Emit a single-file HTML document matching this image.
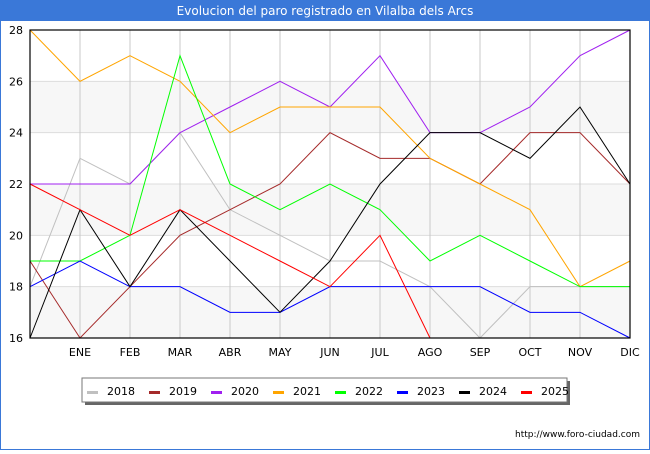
<!DOCTYPE html>
<html><head><meta charset="utf-8"><style>
body{margin:0;width:650px;height:450px;background:#fff;overflow:hidden;font-family:"DejaVu Sans","Liberation Sans",sans-serif}
</style></head><body>
<svg id="c" width="650" height="450" xmlns="http://www.w3.org/2000/svg">
<rect x="0" y="0" width="650" height="450" fill="#fff" stroke="#3a78d8" stroke-width="2"/>
<rect x="0" y="0" width="650" height="21" fill="#3a78d8"/>
<text x="325" y="15" text-anchor="middle" font-size="12" fill="#fff">Evolucion del paro registrado en Vilalba dels Arcs</text>
<g id="plot"></g>
<text x="640" y="437" text-anchor="end" font-size="9" fill="#000">http://www.foro-ciudad.com</text>
</svg>
<script>
const months=["","ENE","FEB","MAR","ABR","MAY","JUN","JUL","AGO","SEP","OCT","NOV","DIC"];
const yTicks=[16,18,20,22,24,26,28];
const years=["2018","2019","2020","2021","2022","2023","2024","2025"];
const colors=["#c0c0c0","#a52a2a","#a020f0","#ffa500","#00ff00","#0000ff","#000000","#ff0000"];
const s2018=[18,23,22,24,21,20,19,19,18,16,18,18,18];
const s2019=[19,16,18,20,21,22,24,23,23,22,24,24,22];
const s2020=[22,22,22,24,25,26,25,27,24,24,25,27,28];
const s2021=[28,26,27,26,24,25,25,25,23,22,21,18,19];
const s2022=[19,19,20,27,22,21,22,21,19,20,19,18,18];
const s2023=[18,19,18,18,17,17,18,18,18,18,17,17,16];
const s2024=[16,21,18,21,19,17,19,22,24,24,23,25,22];
const s2025=[22,21,20,21,20,19,18,20,16];
const series=[s2018,s2019,s2020,s2021,s2022,s2023,s2024,s2025];
const L=30,R=630,T=30,B=338,ymin=16,ymax=28;
const X=i=>L+i*(R-L)/12;
const Y=v=>B-(v-ymin)*(B-T)/(ymax-ymin);
const NS="http://www.w3.org/2000/svg";
const g=document.getElementById("plot");
function mk(t,a){const e=document.createElementNS(NS,t);for(const k in a)e.setAttribute(k,a[k]);g.appendChild(e);return e;}
for(let v=16;v<28;v+=4){
  const e=mk("rect",{x:L,y:Y(v+2),width:R-L,height:Y(v)-Y(v+2),fill:"#f7f7f7"});
  
  
}
yTicks.forEach(v=>{
  const l=mk("line",{x1:L,x2:R,y1:Y(v),y2:Y(v),stroke:"#ddd","stroke-width":1});
  
  
  const t=mk("text",{x:L-7,y:Y(v)+4,"text-anchor":"end","font-size":11});
  t.textContent=v;
  
  
});
months.forEach((m,i)=>{
  if(i>0){
    const l=mk("line",{x1:X(i),x2:X(i),y1:T,y2:B,stroke:"#c8c8c8","stroke-width":1});
    
    
  }
  if(m){
    const t=mk("text",{x:X(i),y:B+18,"text-anchor":"middle","font-size":11});
    t.textContent=m;
    
    
  }
});
series.forEach((s,k)=>{
  const p=mk("polyline",{points:s.map((v,i)=>X(i)+","+Y(v)).join(" "),fill:"none",stroke:colors[k],"stroke-width":1});
  
  
});
const ax=mk("rect",{x:L,y:T,width:R-L,height:B-T,fill:"none",stroke:"#000","stroke-width":1.2});


const sh=mk("rect",{x:85,y:381,width:485,height:24,fill:"#666"});


const lg=mk("rect",{x:82,y:378,width:485,height:24,fill:"#fff",stroke:"#777","stroke-width":1});


years.forEach((y,k)=>{
  const x0=87+k*62;
  const sw=mk("rect",{x:x0,y:391,width:11,height:3,fill:colors[k]});
  
  
  const t=mk("text",{x:x0+20,y:395,"font-size":11});
  t.textContent=y;
  
  
});
</script>
</body></html>
